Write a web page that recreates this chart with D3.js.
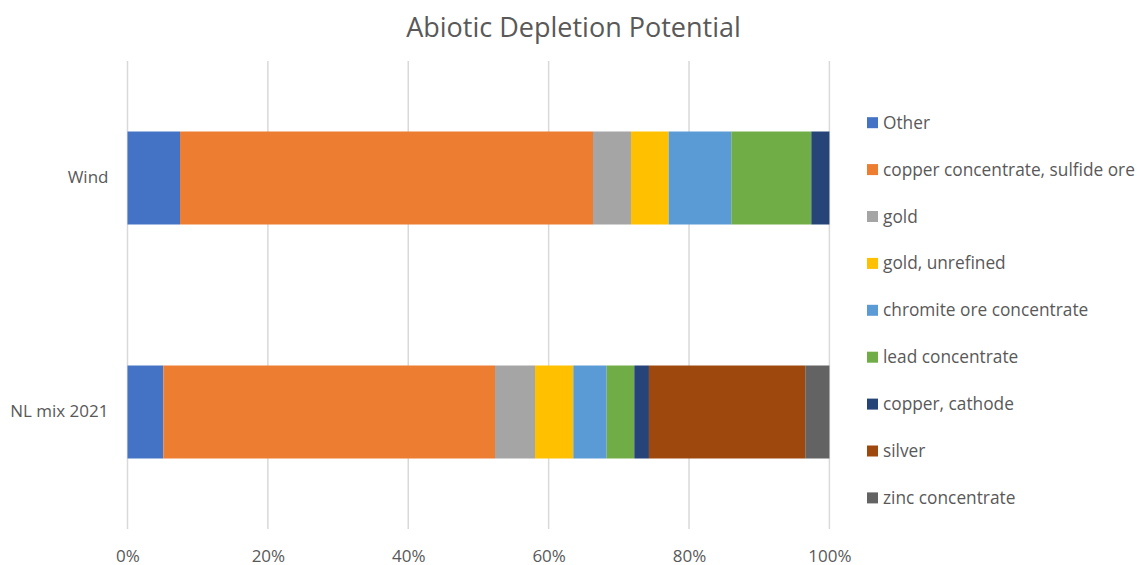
<!DOCTYPE html>
<html>
<head>
<meta charset="utf-8">
<script src="https://cdn.jsdelivr.net/npm/d3@7"></script>
<style>
  html, body { margin: 0; padding: 0; background: #fff; }
  svg text { font-family: "Open Sans", "Liberation Sans", sans-serif; fill: #595959; }
</style>
</head>
<body>
<svg id="chart" width="1143" height="565"></svg>
<script>
// Categories, shown top to bottom
const categories = ["Wind", "NL mix 2021"];

// Contribution shares (%) per material, one array per series
const seriesNames = [
  "Other",
  "copper concentrate, sulfide ore",
  "gold",
  "gold, unrefined",
  "chromite ore concentrate",
  "lead concentrate",
  "copper, cathode",
  "silver",
  "zinc concentrate"
];
const other          = [7.48, 5.10];
const copperConc     = [58.84, 47.26];
const gold           = [5.41, 5.70];
const goldUnrefined  = [5.37, 5.45];
const chromite       = [8.92, 4.76];
const leadConc       = [11.40, 3.93];
const copperCathode  = [2.58, 2.09];
const silver         = [0.00, 22.27];
const zincConc       = [0.00, 3.44];

const seriesValues = [other, copperConc, gold, goldUnrefined, chromite, leadConc, copperCathode, silver, zincConc];
const seriesColors = ["#4472C4", "#ED7D31", "#A5A5A5", "#FFC000", "#5B9BD5", "#70AD47", "#264478", "#9E480E", "#636363"];

const tickValues = [0, 20, 40, 60, 80, 100];

const svg = d3.select("#chart");

// Plot area
const plotLeft = 127.5, plotRight = 829.4, plotTop = 61, plotBottom = 529;

const x = d3.scaleLinear().domain([0, 100]).range([plotLeft, plotRight]);
const y = d3.scaleBand().domain(categories).range([plotTop, plotBottom]).paddingInner(0.6026).paddingOuter(0.3013);

// Title
svg.append("text")
  .attr("x", 573.5).attr("y", 37)
  .attr("text-anchor", "middle")
  .style("font-size", "27px")
  .text("Abiotic Depletion Potential");

// Vertical gridlines
svg.append("g").selectAll("line")
  .data(tickValues)
  .join("line")
  .attr("x1", d => x(d)).attr("x2", d => x(d))
  .attr("y1", plotTop).attr("y2", plotBottom)
  .attr("stroke", "#d9d9d9").attr("stroke-width", 1.5);

// Stacked rows
const rows = categories.map((c, i) => {
  let acc = 0;
  return seriesValues.map((vals, s) => {
    const seg = { cat: c, s, x0: acc, x1: acc + vals[i] };
    acc += vals[i];
    return seg;
  });
}).flat().filter(d => d.x1 > d.x0);

svg.append("g").selectAll("rect")
  .data(rows)
  .join("rect")
  .attr("x", d => x(d.x0))
  .attr("width", d => x(d.x1) - x(d.x0))
  .attr("y", d => y(d.cat))
  .attr("height", y.bandwidth())
  .attr("fill", d => seriesColors[d.s]);

// X axis labels
const xAxis = d3.axisBottom(x).tickValues(tickValues).tickFormat(d => d + "%").tickSize(0).tickPadding(0);
const gx = svg.append("g").attr("transform", "translate(0, 561.5)").call(xAxis);
gx.select(".domain").remove();
gx.selectAll("text").style("font-size", "17px").attr("fill", "#595959").attr("dy", "0");

// Category labels
const yAxis = d3.axisLeft(y).tickSize(0).tickPadding(0);
const gy = svg.append("g").attr("transform", `translate(${plotLeft - 19}, 0)`).call(yAxis);
gy.select(".domain").remove();
gy.selectAll("text").style("font-size", "17px").attr("fill", "#595959");

// Legend
const legend = svg.append("g").attr("transform", "translate(867, 122.7)");
const item = legend.selectAll("g")
  .data(seriesNames)
  .join("g")
  .attr("transform", (d, i) => `translate(0, ${i * 46.9})`);
item.append("rect")
  .attr("x", 0).attr("y", -5.5).attr("width", 11).attr("height", 11)
  .attr("fill", (d, i) => seriesColors[i]);
item.append("text")
  .attr("x", 16).attr("y", 0).attr("dy", "0.35em")
  .style("font-size", "17.3px")
  .text(d => d);
</script>
</body>
</html>
